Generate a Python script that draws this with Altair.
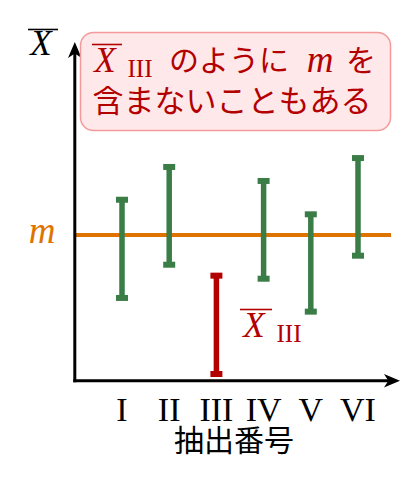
import altair as alt
import pandas as pd

# ---- data ----
samples = ["I", "II", "III", "IV", "V", "VI"]
sample_pos = [1, 2, 3, 4, 5, 6]
lower = [5.68, 7.96, 0.46, 7.00, 4.74, 8.58]
upper = [12.42, 14.67, 7.21, 13.71, 11.42, 15.28]
contains_m = [True, True, False, True, True, True]
m_value = 10.0

GREEN = "#3a7d46"
RED = "#b30000"
ORANGE = "#de7300"
SERIF = "Liberation Serif"
CJK = "Noto Sans CJK JP"

W, H = 399, 470
XD = [-1.4153, 7.0381]
YD = [-6.678, 25.580]

df = pd.DataFrame({"name": samples, "pos": sample_pos, "lo": lower, "hi": upper,
                   "ok": contains_m})

xs = alt.Scale(domain=XD, nice=False, zero=False)
ys = alt.Scale(domain=YD, nice=False, zero=False)
X = lambda f: alt.X(f, type="quantitative", scale=xs, axis=None)
Y = lambda f: alt.Y(f, type="quantitative", scale=ys, axis=None)

color_enc = alt.condition("datum.ok", alt.value(GREEN), alt.value(RED))

bars = alt.Chart(df).mark_rule(strokeWidth=5.5).encode(
    x=X("pos"), y=Y("lo"), y2="hi", color=color_enc)
cap_lo = alt.Chart(df).mark_tick(orient="horizontal", size=12, thickness=6, opacity=1).encode(
    x=X("pos"), y=Y("lo"), color=color_enc)
cap_hi = alt.Chart(df).mark_tick(orient="horizontal", size=12, thickness=6, opacity=1).encode(
    x=X("pos"), y=Y("hi"), color=color_enc)

mean_df = pd.DataFrame({"x0": [0.0], "x1": [6.70], "m": [m_value]})
mean_line = alt.Chart(mean_df).mark_rule(color=ORANGE, strokeWidth=4).encode(
    x=X("x0"), x2="x1", y=Y("m"))

axes_df = pd.DataFrame({"x0": [0.0], "x1": [6.72], "y0": [0.0], "y1": [22.7]})
x_axis = alt.Chart(axes_df).mark_rule(color="black", strokeWidth=3, strokeCap="square").encode(
    x=X("x0"), x2="x1", y=Y("y0"))
y_axis = alt.Chart(axes_df).mark_rule(color="black", strokeWidth=3, strokeCap="square").encode(
    x=X("x0"), y=Y("y0"), y2="y1")
arrow_r = alt.Chart(axes_df).mark_point(
    shape="M 1 0 L -1 -0.85 L -0.45 0 L -1 0.85 Z", size=256, filled=True,
    color="black", opacity=1).encode(x=X("x1"), y=Y("y0"))
arrow_u = alt.Chart(axes_df).mark_point(
    shape="M 0 -1 L -0.85 1 L 0 0.45 L 0.85 1 Z", size=256, filled=True,
    color="black", opacity=1).encode(x=X("x0"), y=Y("y1"))

tick_labels = alt.Chart(df).mark_text(font=SERIF, fontSize=34, baseline="alphabetic",
                                      color="black").encode(
    x=X("pos"), y=alt.value(421 - 8), text="name")


def label(text, x, y, size, font, color, style="normal", baseline="alphabetic"):
    return alt.Chart(alt.Data(values=[{"t": text}])).mark_text(
        font=font, fontSize=size, fontStyle=style, color=color, align="center",
        baseline=baseline).encode(x=alt.value(x - 8), y=alt.value(y - 8), text="t:N")


def overline(x0, x1, y, color):
    return alt.Chart(alt.Data(values=[{"t": 1}])).mark_rule(color=color, strokeWidth=1.6).encode(
        x=alt.value(x0 - 8), x2=alt.value(x1 - 8), y=alt.value(y - 8))


box = alt.Chart(alt.Data(values=[{"t": 1}])).mark_rect(
    fill="#ffe8ea", stroke="#f59a9a", strokeWidth=1.5, cornerRadius=13).encode(
    x=alt.value(80.5 - 8), x2=alt.value(390.5 - 8), y=alt.value(32.5 - 8), y2=alt.value(130.5 - 8))

annots = [
    box,
    # top-left axis label X-bar
    label("X", 41, 55, 35, SERIF, "black", "italic"),
    overline(28, 58, 29.5, "black"),
    # m label
    label("m", 42, 243, 37, SERIF, ORANGE, "italic"),
    # box text line 1
    label("X", 105, 72, 35, SERIF, RED, "italic"),
    overline(92, 122, 44.5, RED),
    label("III", 140, 77, 25, SERIF, RED),
    label("のように", 229, 62, 30, CJK, RED, baseline="middle"),
    label("m", 320, 72, 37, SERIF, RED, "italic"),
    label("を", 361, 62, 30, CJK, RED, baseline="middle"),
    # box text line 2
    label("含まないこともある", 232, 103, 31, CJK, RED, baseline="middle"),
    # red label near III
    label("X", 254, 337, 35, SERIF, RED, "italic"),
    overline(240, 272, 309.5, RED),
    label("III", 289, 342, 25, SERIF, RED),
    # x axis title
    label("抽出番号", 234, 442, 30, CJK, "black", baseline="middle"),
]

chart = alt.layer(
    mean_line, bars, cap_lo, cap_hi, x_axis, y_axis, arrow_r, arrow_u, tick_labels, *annots
).properties(
    width=W, height=H, padding=0, autosize=alt.AutoSizeParams(type="none")
).configure_view(stroke=None)

chart.save("out.html", embed_options={"renderer": "svg", "actions": False})
